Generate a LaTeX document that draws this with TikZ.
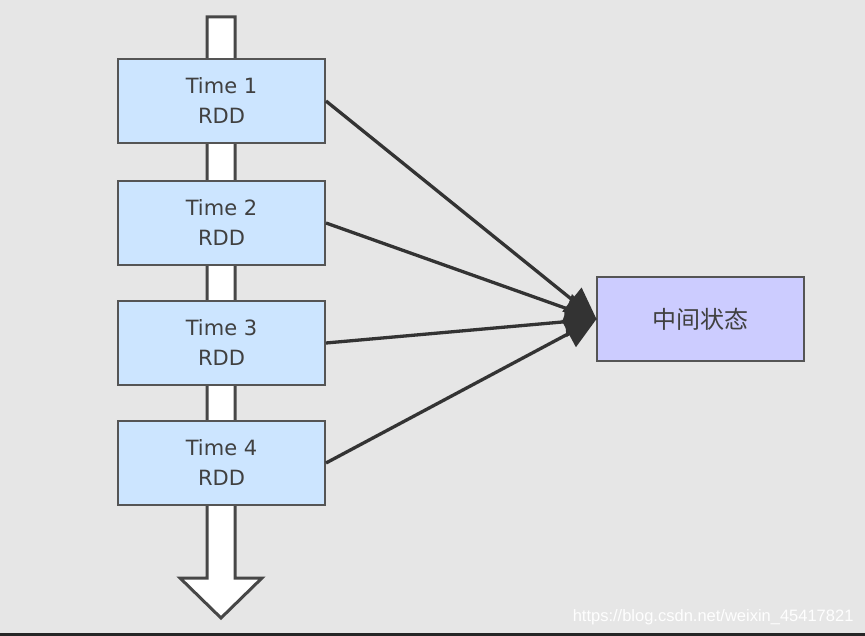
\documentclass[tikz,border=0pt]{standalone}
\usepackage{fontspec}
\setmainfont{DejaVu Sans}
\newfontfamily\cjk{Noto Sans CJK SC}
\newfontfamily\wm{Liberation Sans}
\usetikzlibrary{arrows.meta}
\definecolor{bg}{HTML}{E6E6E6}
\definecolor{rddfill}{HTML}{CCE5FF}
\definecolor{midfill}{HTML}{CCCCFF}
\definecolor{edge}{HTML}{555555}
\definecolor{arr}{HTML}{333333}
\tikzset{
  rdd/.style={draw=edge, line width=2pt, fill=rddfill, minimum width=207pt, minimum height=84pt, inner sep=0pt, align=center, font=\fontsize{21}{30}\selectfont, text=black!75},
  midbox/.style={draw=edge, line width=2pt, fill=midfill, minimum width=207pt, minimum height=84pt, inner sep=0pt, font=\cjk\fontsize{24}{28}\selectfont, text=black!75},
  link/.style={draw=arr, line width=3.3pt, -{Triangle[length=32pt,width=30pt]}, shorten >=-1pt},
}
\begin{document}
\begin{tikzpicture}[x=1pt,y=-1pt]
\fill[bg] (0,0) rectangle (865,636);
\useasboundingbox (0,0) rectangle (865,636);
\fill[black!85] (0,633) rectangle (865,636);
% big time arrow
\draw[draw=arr!90, line width=3pt, fill=white, line join=miter]
  (207,17) -- (235,17) -- (235,578) -- (262,578) -- (221,618) -- (180,578) -- (207,578) -- cycle;
\node[rdd] (t1) at (221.5,101) {Time 1\\RDD};
\node[rdd] (t2) at (221.5,223) {Time 2\\RDD};
\node[rdd] (t3) at (221.5,343) {Time 3\\RDD};
\node[rdd] (t4) at (221.5,463) {Time 4\\RDD};
\node[midbox] (m) at (700.5,319) {中间状态};
\draw[link] (t1.east) -- (m.west);
\draw[link] (t2.east) -- (m.west);
\draw[link] (t3.east) -- (m.west);
\draw[link] (t4.east) -- (m.west);
\node[font=\wm\fontsize{16.5}{20}\selectfont, text=white!95!bg, anchor=east] (wmk) at (857,617) {https://blog.csdn.net/weixin\_45417821};
\end{tikzpicture}
\end{document}
